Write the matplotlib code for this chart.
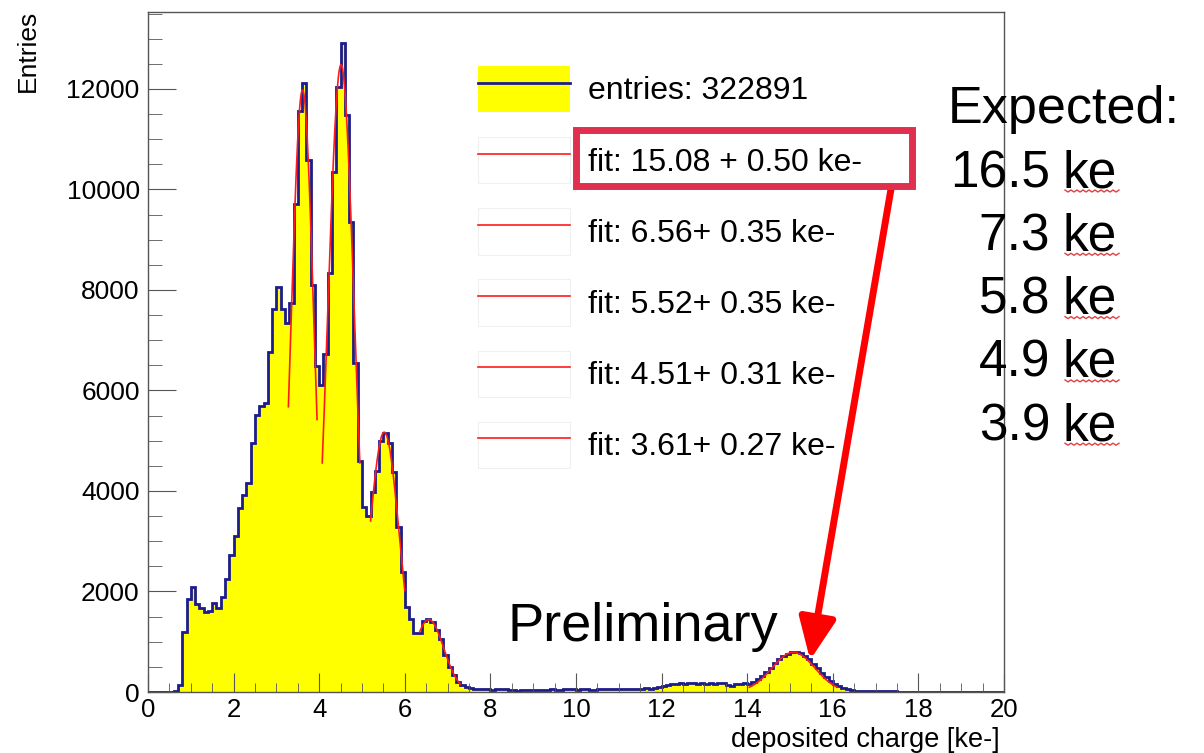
import numpy as np
import matplotlib
matplotlib.use('Agg')
import matplotlib.pyplot as plt
from matplotlib.patches import Patch, Rectangle
from matplotlib.lines import Line2D
from matplotlib.ticker import MultipleLocator

plt.rcParams['font.family'] = ['Liberation Sans', 'DejaVu Sans']

W, H = 1204, 753

# histogram: 200 bins of 0.1 ke- from 0 to 20
bin_edges = np.linspace(0, 20, 201)
counts = (
    [0, 0, 0, 0, 0, 0, 20]
    + [130, 1190, 1850, 2090, 1750, 1670, 1600, 1620, 1770, 1680, 1890, 2250, 2730]
    + [3100, 3660, 3920, 4160, 4960, 5510, 5700, 5750, 6770, 7620]
    + [8060, 7620, 7340, 7740, 9710, 11560, 12120, 10590, 8100, 6490]
    + [6110, 6730, 8340, 10350, 12040, 12910, 11480, 9350, 6550, 4600]
    + [3680, 3500, 3980, 4400, 5000, 5150, 4960, 4380, 3280, 2390]
    + [1690, 1450, 1170, 1170, 1410, 1460, 1390, 1230, 1050, 740]
    + [500, 340, 200, 140, 90]
    + [70, 60, 55, 60, 50, 45, 55, 60, 50, 40, 30, 25, 35, 30, 40, 45, 40, 35, 45, 50, 45, 40, 50, 55, 50]
    + [45, 55, 50, 40, 45, 50, 55, 60, 55, 50, 60, 65, 60, 55, 60, 65, 70, 65, 75, 90]
    + [110, 130, 150, 160, 170, 165, 170, 175, 165, 170, 160, 170, 165, 175, 170, 130, 120, 150, 165, 175]
    + [160, 200, 250, 320, 400, 480, 570, 650, 720, 760, 790, 800, 770, 720, 650, 560, 480, 380, 300, 220,
       150, 110, 75, 50, 35]
    + [25, 20, 20, 15, 15, 15, 10, 10, 10, 10, 8, 8, 8, 5, 5, 5, 5, 5, 5, 5, 3, 3, 3, 3, 3, 2, 2, 2, 2, 2,
       2, 1, 1, 1, 1]
)
n_entries = 322891

# gaussian fits (mean, sigma from the legend; amplitude and range)
fit_mean = [15.08, 6.56, 5.52, 4.51, 3.61]
fit_sigma = [0.50, 0.35, 0.35, 0.31, 0.27]
fit_amp = [790, 1440, 5170, 12480, 11980]
fit_lo = [14.05, 6.35, 5.20, 4.07, 3.28]
fit_hi = [16.10, 7.30, 6.00, 4.95, 3.95]
fit_labels = ['fit: 15.08 + 0.50 ke-', 'fit: 6.56+ 0.35 ke-', 'fit: 5.52+ 0.35 ke-',
              'fit: 4.51+ 0.31 ke-', 'fit: 3.61+ 0.27 ke-']

expected_vals = ['16.5', '7.3', '5.8', '4.9', '3.9']


def fx(px):
    return px / W


def fy(py):
    return 1 - py / H


fig = plt.figure(figsize=(W / 100, H / 100), dpi=100)
ax = fig.add_axes([fx(148), fy(692), 856 / W, 680 / H])

ax.stairs(counts, bin_edges, fill=True, color='#ffff00', lw=0)
ax.stairs(counts, bin_edges, color='#1c1c8c', lw=2)

for m, s, a, lo, hi in zip(fit_mean, fit_sigma, fit_amp, fit_lo, fit_hi):
    xs = np.linspace(lo, hi, 200)
    ax.plot(xs, a * np.exp(-0.5 * ((xs - m) / s) ** 2), color='#ff1a1a', lw=1.2)

ax.set_xlim(0, 20)
ax.set_ylim(0, 13530)
for sp in ax.spines.values():
    sp.set_color('#555555')
    sp.set_linewidth(1)

ax.xaxis.set_major_locator(MultipleLocator(2))
ax.xaxis.set_minor_locator(MultipleLocator(0.5))
ax.yaxis.set_major_locator(MultipleLocator(2000))
ax.yaxis.set_minor_locator(MultipleLocator(500))
ax.tick_params(which='both', direction='in', top=False, right=False, color='#555555')
ax.tick_params(axis='x', which='major', length=13.5, pad=4, labelsize=18.5)
ax.tick_params(axis='x', which='minor', length=6.7)
ax.tick_params(axis='y', which='major', length=20, pad=6, labelsize=19)
ax.tick_params(axis='y', which='minor', length=10)

fig.text(fx(1000), fy(747), 'deposited charge [ke-]', ha='right', va='baseline', fontsize=19.5)
fig.text(fx(28), fy(10), 'Entries', rotation=90, ha='center', va='top', fontsize=19)

# legend
handles = [(Patch(fc='#ffff00', ec='none'), Line2D([], [], color='#1c1c8c', lw=2))]
handles += [(Patch(fc='white', ec='#f0f0f0', lw=0.8), Line2D([], [], color='#ff1a1a', lw=1.2))
            for _ in fit_labels]
labels = [f'entries: {n_entries}'] + fit_labels
fig.legend(handles, labels, loc='upper left', bbox_to_anchor=(fx(478), fy(66)), frameon=False,
           fontsize=23, handlelength=2.88, handleheight=1.85, handletextpad=0.55,
           labelspacing=0.78, borderpad=0, borderaxespad=0)

# highlight box and arrow
fig.add_artist(Rectangle((fx(576), fy(186)), (912 - 576) / W, (186 - 130) / H,
                         transform=fig.transFigure, fill=False, ec='#e03050', lw=5))
ax.annotate('', xy=(15.47, 637), xycoords='data', xytext=(fx(891), fy(189)),
            textcoords='figure fraction',
            arrowprops=dict(arrowstyle='-|>,head_length=0.9,head_width=0.4', mutation_scale=28,
                            lw=5, color='#ff0000', shrinkA=0, shrinkB=0))

fig.text(fx(508), fy(641), 'Preliminary', fontsize=39, va='baseline')

# expected values
fig.text(fx(948), fy(123), 'Expected:', fontsize=37.5, va='baseline')
for i, v in enumerate(expected_vals):
    base = 187 + 63.3 * i
    fig.text(fx(1050), fy(base), v, ha='right', va='baseline', fontsize=37)
    fig.text(fx(1063), fy(base), 'ke', ha='left', va='baseline', fontsize=37)
    sx = np.arange(1065, 1120, 3)
    sy = base + 3 + 2 * (np.arange(len(sx)) % 2)
    fig.add_artist(Line2D(fx(sx), fy(sy), transform=fig.transFigure, color='#e04040', lw=1))

fig.savefig('out.png', dpi=100)
